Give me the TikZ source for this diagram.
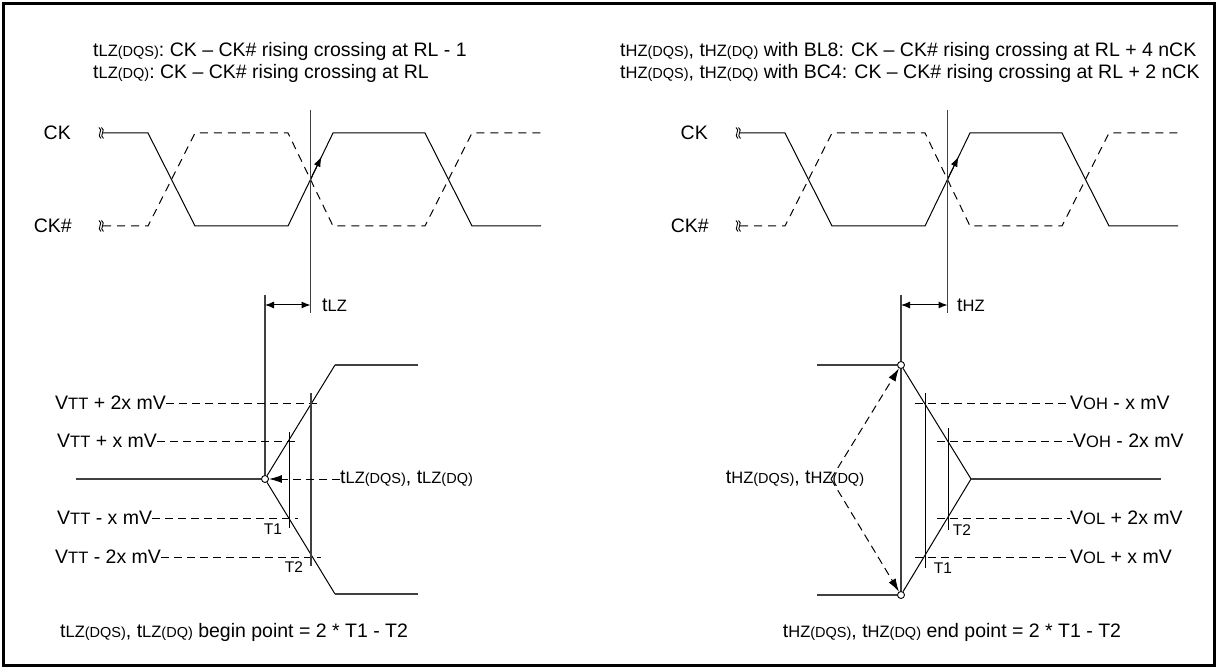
\documentclass[tikz,border=0pt]{standalone}
\usepackage{fontspec}
\setmainfont{Liberation Sans}
\usetikzlibrary{arrows.meta,calc,positioning}
\newcommand{\capsm}[1]{{\fontsize{16.5}{19}\selectfont #1}}
\newcommand{\parsm}[1]{{\fontsize{14.5}{17}\selectfont #1}}
\tikzset{
  wave/.style={line width=1pt},
  dashed wave/.style={line width=1pt, dash pattern=on 8pt off 6pt},
  ref line/.style={line width=1.5pt, black!75},
  level line/.style={line width=1pt, dash pattern=on 8pt off 5pt},
  dim arrow/.style={{Latex[length=9pt,width=7pt]}-{Latex[length=9pt,width=7pt]}, line width=1pt},
  meas arrow/.style={-{Latex[length=13pt,width=8pt]}, line width=1pt, dash pattern=on 8pt off 5pt},
  point/.style={circle, draw, fill=white, inner sep=0pt, minimum size=7pt, line width=0.9pt},
  lbl/.style={font=\fontsize{19.5}{23}\selectfont, inner sep=0pt},
  tlbl/.style={font=\fontsize{15.5}{18}\selectfont, inner sep=0pt},
  break mark/.pic={
    \draw[line width=0.9pt] (-2,-5.5) .. controls (3,-3) and (-5,2.5) .. (0,5.5);
    \draw[line width=0.9pt] (0.5,-5.5) .. controls (5.5,-3) and (-2.5,2.5) .. (2.5,5.5);
  },
}

\begin{document}
\begin{tikzpicture}[x=1pt, y=-1pt]

  \useasboundingbox (0,0) rectangle (1219,671);
  \draw[line width=3pt] (3.5,3.5) rectangle (1214.5,665);

  % Headers
  \node[lbl, anchor=west] (lzhead1) at (93,51) {t\capsm{LZ}\parsm{(DQS)}: CK -- CK\# rising crossing at RL - 1};
  \node[lbl, anchor=west] (lzhead2) at (93,73) {t\capsm{LZ}\parsm{(DQ)}: CK -- CK\# rising crossing at RL};
  \node[lbl, anchor=west] (hzhead1) at (620,51) {t\capsm{HZ}\parsm{(DQS)}, t\capsm{HZ}\parsm{(DQ)} with BL8: CK -- CK\# rising crossing at RL + 4 nCK};
  \node[lbl, anchor=west] (hzhead2) at (620,73) {t\capsm{HZ}\parsm{(DQS)}, t\capsm{HZ}\parsm{(DQ)} with BC4: CK -- CK\# rising crossing at RL + 2 nCK};

  % Clock pair, same for both halves
  \foreach \p/\dx in {lz/0, hz/637} {
    \begin{scope}[xshift=\dx]
      \node[lbl, anchor=east] (\p ck) at (71,133) {CK};
      \node[lbl, anchor=east] (\p ckn) at (72,226) {CK\#};
      \pic at (101,133) {break mark};
      \pic at (101,226) {break mark};
      \draw[wave] (103,133) -- (148,133) -- (195,226) -- (288,226) -- (333,133) coordinate (\p rise)
        -- (425,133) -- (472,226) -- (541,226);
      \draw[dashed wave] (103,226) -- (148,226) -- (195,133) -- (288,133) -- (333,226)
        -- (425,226) -- (472,133) -- (541,133);
      \coordinate (\p cross) at (310.5,179.5);
      \draw[wave, -{Latex[length=10pt,width=7pt]}] (\p cross) -- ($(\p cross)!0.49!(\p rise)$);
      \draw[ref line] (310.5,110) -- (310.5,313);
    \end{scope}
  }

  % tLZ: data leaves high-Z
  \node[point] (lzpt) at (265,479) {};
  \draw[ref line] (76,479) -- (lzpt.west);
  \draw[wave] (lzpt) -- (335,365);
  \draw[wave] (lzpt) -- (335,594);
  \draw[ref line] (335,365) -- (418,365);
  \draw[ref line] (335,594) -- (418,594);
  \draw[ref line] (265,295) -- (lzpt.north);
  \draw[dim arrow] (265,305) -- (310.5,305);
  \node[lbl, anchor=west] (tlz) at (322,305) {t\capsm{LZ}};

  \node[lbl, anchor=west] (vtt2p) at (55,403) {V\capsm{TT} + 2x mV};
  \node[lbl, anchor=west] (vtt1p) at (57,441) {V\capsm{TT} + x mV};
  \node[lbl, anchor=west] (vtt1m) at (57,518) {V\capsm{TT} - x mV};
  \node[lbl, anchor=west] (vtt2m) at (55,557) {V\capsm{TT} - 2x mV};
  \draw[level line] (vtt2p.east) -- (321,403);
  \draw[level line] (vtt1p.east) -- (298,441);
  \draw[level line] (vtt1m.east) -- (298,518);
  \draw[level line] (vtt2m.east) -- (321,557);
  \draw[wave] (289,432) -- (289,528);
  \draw[ref line] (311,393) -- (311,566);
  \node[tlbl] (lzt1) at (273,529) {T1};
  \node[tlbl] (lzt2) at (294,567) {T2};

  \node[lbl, anchor=west] (lzmeas) at (340,479) {t\capsm{LZ}\parsm{(DQS)}, t\capsm{LZ}\parsm{(DQ)}};
  \draw[meas arrow] (lzmeas.west) -- (lzpt.east);
  \node[lbl, anchor=west] (lzfoot) at (60,632) {t\capsm{LZ}\parsm{(DQS)}, t\capsm{LZ}\parsm{(DQ)} begin point = 2 * T1 - T2};

  % tHZ: data goes high-Z
  \node[point] (hztop) at (901,365) {};
  \node[point] (hzbot) at (901,595) {};
  \coordinate (hzmid) at (971,479);
  \draw[ref line] (817,365) -- (hztop.west);
  \draw[ref line] (817,595) -- (hzbot.west);
  \draw[wave] (hztop) -- (hzmid) -- (hzbot);
  \draw[ref line] (hzmid) -- (1161,479);
  \draw[ref line] (901,295) -- (hztop.north);
  \draw[ref line] (hztop.south) -- (hzbot.north);
  \draw[dim arrow] (901,305) -- (947.5,305);
  \node[lbl, anchor=west] (thz) at (957,305) {t\capsm{HZ}};

  \node[lbl, anchor=west] (voh1) at (1070,403) {V\capsm{OH} - x mV};
  \node[lbl, anchor=west] (voh2) at (1073,441) {V\capsm{OH} - 2x mV};
  \node[lbl, anchor=west] (vol2) at (1070,518) {V\capsm{OL} + 2x mV};
  \node[lbl, anchor=west] (vol1) at (1070,557) {V\capsm{OL} + x mV};
  \draw[level line] (915,403) -- (voh1.west);
  \draw[level line] (937,441) -- (voh2.west);
  \draw[level line] (937,518) -- (vol2.west);
  \draw[level line] (915,557) -- (vol1.west);
  \draw[wave] (925,393) -- (925,568);
  \draw[wave] (948,428) -- (948,530);
  \node[tlbl] (hzt2) at (962,530) {T2};
  \node[tlbl] (hzt1) at (943,568) {T1};

  \node[lbl] (hzmeas) at (795,479) {t\capsm{HZ}\parsm{(DQS)}, t\capsm{HZ}\parsm{(DQ)}};
  \coordinate (hzsrc) at (831,479);
  \draw[meas arrow] (hzsrc) -- (hztop);
  \draw[meas arrow] (hzsrc) -- (hzbot);
  \node[lbl] (hzfoot) at (952,632) {t\capsm{HZ}\parsm{(DQS)}, t\capsm{HZ}\parsm{(DQ)} end point = 2 * T1 - T2};

\end{tikzpicture}
\end{document}
